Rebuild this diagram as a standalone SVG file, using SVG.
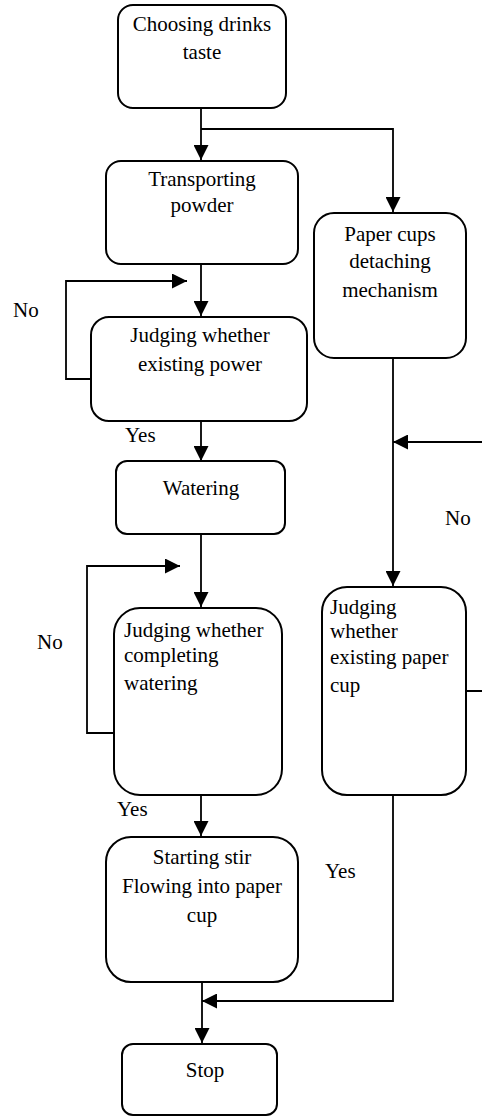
<svg xmlns="http://www.w3.org/2000/svg" width="482" height="1116" viewBox="0 0 482 1116" font-family="'Liberation Serif', 'Times New Roman', 'DejaVu Serif', serif" font-size="21">
<defs>
<style>
.box{fill:#fff;stroke:#000;stroke-width:2}
.ln{fill:none;stroke:#000;stroke-width:1.8}
text{font-family:'Liberation Serif','Times New Roman','DejaVu Serif',serif;font-size:21px;fill:#000}
.c{text-anchor:middle}
</style>
<marker id="ah" viewBox="0 0 15 15" refX="15" refY="7.5" markerWidth="15" markerHeight="15" markerUnits="userSpaceOnUse" orient="auto">
<path d="M0,0 L15,7.5 L0,15 z" fill="#000"/>
</marker>
</defs>
<rect width="482" height="1116" fill="#fff"/>
<g id="connectors">
<path class="ln" d="M201,108 V160" marker-end="url(#ah)"/>
<path class="ln" d="M201,129 H393 V212" marker-end="url(#ah)"/>
<path class="ln" d="M201,264 V316" marker-end="url(#ah)"/>
<path class="ln" d="M91,379 H66 V281 H187" marker-end="url(#ah)"/>
<path class="ln" d="M201,421 V461" marker-end="url(#ah)"/>
<path class="ln" d="M201,534 V607" marker-end="url(#ah)"/>
<path class="ln" d="M114,733 H87 V566 H180" marker-end="url(#ah)"/>
<path class="ln" d="M201,795 V836" marker-end="url(#ah)"/>
<path class="ln" d="M393,358 V586" marker-end="url(#ah)"/>
<path class="ln" d="M466,691 H485 V442 H393" marker-end="url(#ah)"/>
<path class="ln" d="M393,795 V1001 H202" marker-end="url(#ah)"/>
<path class="ln" d="M202,982 V1043" marker-end="url(#ah)"/>
</g>
<g id="labels">
<text x="13" y="317">No</text>
<text x="125" y="442">Yes</text>
<text x="445" y="525">No</text>
<text x="37" y="649">No</text>
<text x="117" y="816">Yes</text>
<text x="325" y="878">Yes</text>
</g>
<g id="n1">
<rect class="box" x="118" y="5" width="168" height="103" rx="15"/>
<text class="c" x="202" y="31">Choosing drinks</text>
<text class="c" x="202" y="59">taste</text>
</g>
<g id="n2">
<rect class="box" x="106" y="161" width="192" height="103" rx="15"/>
<text class="c" x="202" y="186">Transporting</text>
<text class="c" x="202" y="212">powder</text>
</g>
<g id="n3">
<rect class="box" x="314" y="213" width="152" height="145" rx="20"/>
<text class="c" x="390" y="241">Paper cups</text>
<text class="c" x="390" y="268">detaching</text>
<text class="c" x="390" y="297">mechanism</text>
</g>
<g id="n4">
<rect class="box" x="91" y="317" width="216" height="104" rx="18"/>
<text class="c" x="200" y="342">Judging whether</text>
<text class="c" x="200" y="371">existing power</text>
</g>
<g id="n5">
<rect class="box" x="116" y="461" width="169" height="73" rx="11"/>
<text class="c" x="201" y="495">Watering</text>
</g>
<g id="n6">
<rect class="box" x="114" y="608" width="168" height="187" rx="26"/>
<text x="124" y="637">Judging whether</text>
<text x="124" y="662">completing</text>
<text x="124" y="690">watering</text>
</g>
<g id="n7">
<rect class="box" x="322" y="587" width="144" height="208" rx="25"/>
<text x="330" y="614">Judging</text>
<text x="330" y="638">whether</text>
<text x="330" y="664">existing paper</text>
<text x="330" y="692">cup</text>
</g>
<g id="n8">
<rect class="box" x="106" y="837" width="192" height="145" rx="25"/>
<text class="c" x="202" y="864">Starting stir</text>
<text class="c" x="202" y="893">Flowing into paper</text>
<text class="c" x="202" y="922">cup</text>
</g>
<g id="n9">
<rect class="box" x="122" y="1044" width="155" height="71" rx="11"/>
<text class="c" x="205" y="1077">Stop</text>
</g>
</svg>
